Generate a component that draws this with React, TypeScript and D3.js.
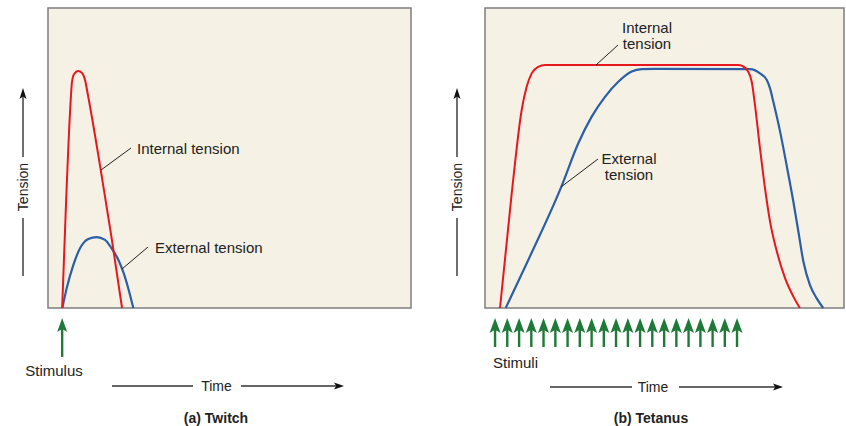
import React from "react";
import * as d3 from "d3";

// ---- data (time units 0..100, tension units 0..100) ----
const twitchInternal: [number, number][] = [
  [3.9, 0], [5.0, 36], [6.1, 66], [6.6, 75.3], [7.2, 78], [8.3, 79], [9.4, 78.3],
  [10.2, 76], [11.0, 71], [14.3, 47.7], [17.4, 24.3], [20.4, 0],
];
const twitchExternal: [number, number][] = [
  [3.94, 0], [5.15, 6.6], [6.97, 14.3], [8.82, 19.9], [11.1, 23], [13.4, 23.6], [15.7, 22.7],
  [17.5, 19.9], [19.4, 16], [20.7, 12.1], [22.1, 6.6], [23.5, 0],
];
const tetanusInternal: [number, number][] = [
  [4.18, 0], [7.44, 38.2], [10.22, 66], [11.62, 73.8], [13.0, 78.2], [14.85, 80.4], [16.7, 81],
  [32.0, 81], [59.9, 81], [70.5, 81], [71.8, 80.6], [73.3, 78.8], [74.3, 75.4], [75.2, 67.7],
  [76.6, 53.2], [78.0, 39.9], [79.4, 28.8], [81.3, 18.8], [83.6, 9.9], [85.9, 3.8], [87.7, 0],
];
const tetanusExternal: [number, number][] = [
  [5.77, 0], [12.06, 16], [21.36, 40.7], [25.99, 54.9], [29.72, 63.8], [33.43, 70.4],
  [37.13, 75.4], [40.86, 78.8], [43.65, 79.6], [47.35, 79.7], [73.8, 79.6], [76.6, 78.2],
  [78.5, 76], [79.4, 73.2], [80.3, 68.8], [82.2, 58.8], [84.0, 47.7], [85.9, 35.4],
  [87.3, 25.4], [88.7, 15.4], [90.5, 7.7], [92.4, 3.2], [94.2, 0],
];
const twitchStimuli: number[] = [3.9];
const tetanusStimuli: number[] = [
  2.8, 6.2, 9.5, 12.9, 16.3, 19.6, 23.0, 26.4, 29.7, 33.1, 36.5, 39.8, 43.2, 46.6,
  49.9, 53.3, 56.7, 60.0, 63.4, 66.8, 70.2,
];

const RED = "#e8161e";
const BLUE = "#2b5ea6";
const GREEN = "#1f7a3a";
const BG = "#f5f2e5";
const FONT = "'Liberation Sans', Arial, Helvetica, sans-serif";
const TXT = "#222";

const yScale = d3.scaleLinear().domain([0, 100]).range([308, 8]);

function ArrowHeadUp({ x, y, w, h, color }: { x: number; y: number; w: number; h: number; color: string }) {
  return <path d={`M${x},${y} L${x - w / 2},${y + h} L${x},${y + h * 0.78} L${x + w / 2},${y + h} Z`} fill={color} />;
}
function ArrowHeadRight({ x, y, w, h, color }: { x: number; y: number; w: number; h: number; color: string }) {
  return <path d={`M${x},${y} L${x - h},${y - w / 2} L${x - h * 0.78},${y} L${x - h},${y + w / 2} Z`} fill={color} />;
}

function TensionAxis({ x }: { x: number }) {
  return (
    <g>
      <line x1={x} x2={x} y1={96} y2={157} stroke="#222" strokeWidth={1.3} />
      <ArrowHeadUp x={x} y={88} w={7} h={11} color="#111" />
      <text x={x} y={187} transform={`rotate(-90, ${x}, 187)`} textAnchor="middle" dominantBaseline="central"
        fontFamily={FONT} fontSize={14} fill={TXT}>Tension</text>
      <line x1={x} x2={x} y1={218} y2={276} stroke="#222" strokeWidth={1.3} />
    </g>
  );
}

function TimeAxis({ x1, x2, tx, x3, x4, y }: { x1: number; x2: number; tx: number; x3: number; x4: number; y: number }) {
  return (
    <g>
      <line x1={x1} x2={x2} y1={y} y2={y} stroke="#333" strokeWidth={1.3} />
      <text x={tx} y={y} textAnchor="middle" dominantBaseline="central" fontFamily={FONT} fontSize={14} fill={TXT}>Time</text>
      <line x1={x3} x2={x4 - 6} y1={y} y2={y} stroke="#333" strokeWidth={1.3} />
      <ArrowHeadRight x={x4} y={y} w={7} h={10} color="#111" />
    </g>
  );
}

export default function App() {
  const xL = d3.scaleLinear().domain([0, 100]).range([48, 411]);
  const xR = d3.scaleLinear().domain([0, 100]).range([485, 844]);
  const lineL = d3.line<[number, number]>().x((d) => xL(d[0])).y((d) => yScale(d[1])).curve(d3.curveMonotoneX);
  const lineR = d3.line<[number, number]>().x((d) => xR(d[0])).y((d) => yScale(d[1])).curve(d3.curveMonotoneX);

  return (
    <svg width={846} height={426} style={{ position: "absolute", left: 0, top: 0, background: "#fff" }}>
      {/* Panel (a) */}
      <rect x={48} y={8} width={363} height={300} fill={BG} stroke="#7d7d7d" strokeWidth={1.5} />
      <path d={lineL(twitchExternal) || ""} fill="none" stroke={BLUE} strokeWidth={2.2} />
      <path d={lineL(twitchInternal) || ""} fill="none" stroke={RED} strokeWidth={2} />
      <line x1={101} y1={170} x2={131} y2={148} stroke="#222" strokeWidth={1} />
      <text x={137} y={148} dominantBaseline="central" fontFamily={FONT} fontSize={15} fill={TXT}>Internal tension</text>
      <line x1={122} y1={269} x2={148} y2={247} stroke="#222" strokeWidth={1} />
      <text x={155} y={247} dominantBaseline="central" fontFamily={FONT} fontSize={15} fill={TXT}>External tension</text>
      <TensionAxis x={23} />
      {twitchStimuli.map((t, i) => (
        <g key={i}>
          <line x1={xL(t)} x2={xL(t)} y1={329} y2={357} stroke={GREEN} strokeWidth={2.4} />
          <ArrowHeadUp x={xL(t)} y={318} w={10} h={14} color={GREEN} />
        </g>
      ))}
      <text x={54} y={370} textAnchor="middle" dominantBaseline="central" fontFamily={FONT} fontSize={15} fill={TXT}>Stimulus</text>
      <TimeAxis x1={112} x2={193} tx={216.5} x3={241} x4={344} y={386} />
      <text x={216} y={418} textAnchor="middle" dominantBaseline="central" fontFamily={FONT} fontSize={14} fontWeight="bold" fill={TXT}>(a) Twitch</text>

      {/* Panel (b) */}
      <rect x={485} y={8} width={359} height={300} fill={BG} stroke="#7d7d7d" strokeWidth={1.5} />
      <path d={lineR(tetanusExternal) || ""} fill="none" stroke={BLUE} strokeWidth={2.2} />
      <path d={lineR(tetanusInternal) || ""} fill="none" stroke={RED} strokeWidth={2} />
      <line x1={596} y1={65} x2={618} y2={45} stroke="#222" strokeWidth={1} />
      <text x={647} y={27} textAnchor="middle" dominantBaseline="central" fontFamily={FONT} fontSize={15} fill={TXT}>Internal</text>
      <text x={647} y={43} textAnchor="middle" dominantBaseline="central" fontFamily={FONT} fontSize={15} fill={TXT}>tension</text>
      <line x1={561} y1={187} x2={598} y2={159} stroke="#222" strokeWidth={1} />
      <text x={629} y={158} textAnchor="middle" dominantBaseline="central" fontFamily={FONT} fontSize={15} fill={TXT}>External</text>
      <text x={629} y={174} textAnchor="middle" dominantBaseline="central" fontFamily={FONT} fontSize={15} fill={TXT}>tension</text>
      <TensionAxis x={457} />
      {tetanusStimuli.map((t, i) => (
        <g key={i}>
          <line x1={xR(t)} x2={xR(t)} y1={329} y2={347} stroke={GREEN} strokeWidth={2.4} />
          <ArrowHeadUp x={xR(t)} y={318} w={11} h={15} color={GREEN} />
        </g>
      ))}
      <text x={493} y={362} dominantBaseline="central" fontFamily={FONT} fontSize={15} fill={TXT}>Stimuli</text>
      <TimeAxis x1={550} x2={632} tx={653} x3={679} x4={783} y={387} />
      <text x={651} y={418} textAnchor="middle" dominantBaseline="central" fontFamily={FONT} fontSize={14} fontWeight="bold" fill={TXT}>(b) Tetanus</text>
    </svg>
  );
}
